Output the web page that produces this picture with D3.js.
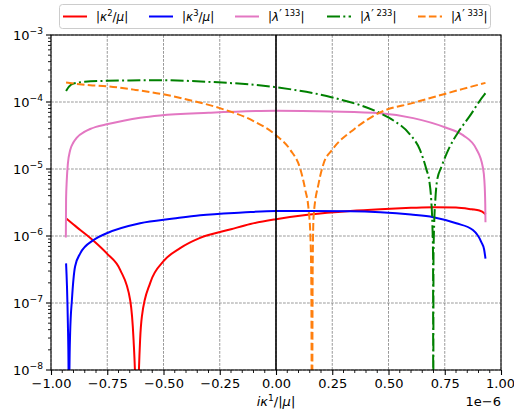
<!DOCTYPE html>
<html>
<head>
<meta charset="utf-8">
<script src="https://cdn.jsdelivr.net/npm/d3@7"></script>
<style>
  html, body { margin: 0; padding: 0; background: #fff; }
  svg { display: block; font-family: "DejaVu Sans", sans-serif; }
</style>
</head>
<body>
<svg id="chart" width="514" height="414"></svg>
<script>
// x values are given in units of 1e-6 (shown as the axis offset)
const xOffset = 1e-6;
const xTicks = [-1, -0.75, -0.5, -0.25, 0, 0.25, 0.5, 0.75, 1];
const yDecades = [-8, -7, -6, -5, -4, -3];

// |kappa^2 / mu|
const kappa2X = [-0.932, -0.9, -0.87, -0.811, -0.752, -0.692, -0.648, -0.633, -0.625, -0.618, -0.611, -0.604, -0.596, -0.559, -0.5, -0.426, -0.34, -0.2, -0.114, 0, 0.15, 0.33, 0.463, 0.6, 0.699, 0.8, 0.87, 0.904, 0.926, 0.932];
const kappa2Y = [1.82e-6, 1.48e-6, 1.23e-6, 8.5e-7, 5.5e-7, 3.1e-7, 1.1e-7, 2.8e-8, 6e-9, 3e-10, 6e-9, 2.8e-8, 6.3e-8, 2.0e-7, 4.2e-7, 6.6e-7, 9.3e-7, 1.26e-6, 1.51e-6, 1.78e-6, 2.09e-6, 2.36e-6, 2.51e-6, 2.63e-6, 2.69e-6, 2.66e-6, 2.5e-6, 2.40e-6, 2.19e-6, 2.09e-6];

// |kappa^3 / mu|
const kappa3X = [-0.933, -0.929, -0.925, -0.922, -0.92, -0.918, -0.915, -0.907, -0.893, -0.87, -0.811, -0.752, -0.604, -0.455, -0.337, -0.15, 0, 0.15, 0.33, 0.463, 0.6, 0.699, 0.801, 0.875, 0.912, 0.925, 0.931];
const kappa3Y = [3.9e-7, 1.78e-7, 5.0e-8, 1e-8, 3e-10, 1e-8, 3.5e-8, 1.12e-7, 3.5e-7, 5.5e-7, 8.7e-7, 1.1e-6, 1.55e-6, 1.82e-6, 2.04e-6, 2.24e-6, 2.36e-6, 2.36e-6, 2.34e-6, 2.26e-6, 2.09e-6, 1.91e-6, 1.55e-6, 1.23e-6, 8.2e-7, 6.3e-7, 4.6e-7];

// |lambda'^133|
const lambda133X = [-0.934, -0.933, -0.93, -0.925, -0.915, -0.9, -0.885, -0.85, -0.826, -0.8, -0.752, -0.678, -0.604, -0.515, -0.3, 0, 0.25, 0.463, 0.61, 0.75, 0.831, 0.89, 0.919, 0.926, 0.93, 0.931];
const lambda133Y = [9.5e-7, 3.5e-6, 6.7e-6, 1.2e-5, 1.9e-5, 2.5e-5, 2.95e-5, 3.6e-5, 3.95e-5, 4.25e-5, 4.65e-5, 5.25e-5, 5.8e-5, 6.3e-5, 6.9e-5, 7.4e-5, 7.2e-5, 6.8e-5, 5.75e-5, 4.2e-5, 3.2e-5, 2.0e-5, 1.07e-5, 6.8e-6, 3.0e-6, 1.6e-6];

// |lambda'^233|
const lambda233X = [-0.933, -0.92, -0.9, -0.85, -0.752, -0.65, -0.515, -0.3, 0, 0.25, 0.463, 0.522, 0.596, 0.64, 0.669, 0.681, 0.69, 0.695, 0.698, 0.699, 0.700, 0.703, 0.708, 0.716, 0.735, 0.772, 0.816, 0.86, 0.926, 0.931];
const lambda233Y = [1.46e-4, 1.70e-4, 1.88e-4, 2.0e-4, 2.07e-4, 2.1e-4, 2.11e-4, 2.0e-4, 1.66e-4, 1.17e-4, 6.8e-5, 5.3e-5, 3.27e-5, 1.93e-5, 9.7e-6, 6.8e-6, 3.4e-6, 1.5e-6, 5e-7, 3e-10, 5e-7, 1.5e-6, 3.4e-6, 6.8e-6, 1.07e-5, 2.14e-5, 3.8e-5, 6.1e-5, 1.29e-4, 1.35e-4];

// |lambda'^333|
const lambda333X = [-0.933, -0.826, -0.752, -0.633, -0.515, -0.4, -0.25, -0.1, 0, 0.064, 0.108, 0.13, 0.145, 0.153, 0.157, 0.16, 0.163, 0.167, 0.19, 0.212, 0.249, 0.35, 0.463, 0.61, 0.75, 0.831, 0.931];
const lambda333Y = [1.95e-4, 1.78e-4, 1.72e-4, 1.53e-4, 1.33e-4, 1.1e-4, 8.1e-5, 5.2e-5, 3.2e-5, 1.92e-5, 1.0e-5, 4.9e-6, 2.45e-6, 9.8e-7, 1.95e-7, 3e-10, 3.2e-7, 1.95e-6, 6.2e-6, 1.22e-5, 1.92e-5, 4.0e-5, 7.0e-5, 9.7e-5, 1.32e-4, 1.57e-4, 1.93e-4];

// legend labels as mathtext-like pieces
const labelKappa2 = [{t: "|"}, {t: "κ", it: true}, {t: "2", sup: true}, {t: "/"}, {t: "μ", it: true}, {t: "|"}];
const labelKappa3 = [{t: "|"}, {t: "κ", it: true}, {t: "3", sup: true}, {t: "/"}, {t: "μ", it: true}, {t: "|"}];
const label133 = [{t: "|"}, {t: "λ", it: true}, {t: "′", prime: true}, {t: " 133", sup: true}, {t: "|"}];
const label233 = [{t: "|"}, {t: "λ", it: true}, {t: "′", prime: true}, {t: " 233", sup: true}, {t: "|"}];
const label333 = [{t: "|"}, {t: "λ", it: true}, {t: "′", prime: true}, {t: " 333", sup: true}, {t: "|"}];

const series = [
  {x: kappa2X, y: kappa2Y, color: "#ff0000", dash: null, label: labelKappa2},
  {x: kappa3X, y: kappa3Y, color: "#0000ff", dash: null, label: labelKappa3},
  {x: lambda133X, y: lambda133Y, color: "#e377c2", dash: null, label: label133},
  {x: lambda233X, y: lambda233Y, color: "#008000", dash: "13,3.3,2,3.3", label: label233},
  {x: lambda333X, y: lambda333Y, color: "#ff7f0e", dash: "7.6,3.3", label: label333}
];

const W = 514, H = 414;
const margin = {left: 51, right: 13, top: 35, bottom: 44};
const plotW = W - margin.left - margin.right;
const plotH = H - margin.top - margin.bottom;
const fs = 13;

const svg = d3.select("#chart");
const x = d3.scaleLinear().domain([-1 * xOffset, 1 * xOffset]).range([margin.left, margin.left + plotW]);
const y = d3.scaleLog().domain([1e-8, 1e-3]).range([margin.top + plotH, margin.top]);

function addMath(textSel, parts, size) {
  let shift = 0;
  parts.forEach(p => {
    const ts = textSel.append("tspan").text(p.t);
    if (p.it) ts.attr("font-style", "italic");
    let target = 0;
    if (p.sup) { ts.attr("font-size", size * 0.7); target = -size * 0.38; }
    if (p.prime) { ts.attr("font-size", size * 0.95); target = -size * 0.22; }
    if (target !== shift) { ts.attr("dy", target - shift); shift = target; }
  });
}

// grid
const grid = svg.append("g");
xTicks.forEach(v => {
  grid.append("line")
    .attr("x1", x(v * xOffset)).attr("x2", x(v * xOffset))
    .attr("y1", margin.top).attr("y2", margin.top + plotH)
    .attr("stroke", "#808080").attr("stroke-width", 0.8).attr("stroke-dasharray", "2.8,1.2");
});
yDecades.forEach(d => {
  grid.append("line")
    .attr("x1", margin.left).attr("x2", margin.left + plotW)
    .attr("y1", y(Math.pow(10, d))).attr("y2", y(Math.pow(10, d)))
    .attr("stroke", "#808080").attr("stroke-width", 0.8).attr("stroke-dasharray", "2.8,1.2");
});

// curves
svg.append("clipPath").attr("id", "plotClip")
  .append("rect").attr("x", margin.left).attr("y", margin.top).attr("width", plotW).attr("height", plotH);

const curves = svg.append("g").attr("clip-path", "url(#plotClip)");
const line = d3.line()
  .x(d => x(d[0] * xOffset))
  .y(d => y(d[1]))
  .curve(d3.curveMonotoneX);

series.forEach(s => {
  const pts = s.x.map((v, i) => [v, s.y[i]]);
  const p = curves.append("path")
    .attr("d", line(pts))
    .attr("fill", "none")
    .attr("stroke", s.color)
    .attr("stroke-width", 2)
    .attr("stroke-linejoin", "round");
  if (s.dash) p.attr("stroke-dasharray", s.dash);
});

// vertical line at zero
svg.append("line")
  .attr("x1", x(0)).attr("x2", x(0))
  .attr("y1", margin.top).attr("y2", margin.top + plotH)
  .attr("stroke", "#000").attr("stroke-width", 1.6);

// axes frame
svg.append("rect")
  .attr("x", margin.left).attr("y", margin.top).attr("width", plotW).attr("height", plotH)
  .attr("fill", "none").attr("stroke", "#000").attr("stroke-width", 1.1);

// x axis
const xMinor = d3.range(-1, 1.0001, 0.05).filter(v => Math.abs(v / 0.25 - Math.round(v / 0.25)) > 1e-6);
const xAxis = d3.axisBottom(x)
  .tickValues(xTicks.map(v => v * xOffset))
  .tickSize(5).tickPadding(4)
  .tickFormat(v => {
    const s = (v / xOffset).toFixed(2);
    return s.replace("-", "−");
  });
const gx = svg.append("g").attr("transform", `translate(0,${margin.top + plotH})`).call(xAxis);
gx.select(".domain").remove();
gx.selectAll("text").attr("font-size", fs).attr("font-family", "DejaVu Sans").attr("fill", "#000");
gx.selectAll("line").attr("stroke-width", 1.1);
// keep the last label inside the page
gx.selectAll(".tick text").filter(v => v >= xOffset * 0.999).attr("text-anchor", "end").attr("x", 13.5);
xMinor.forEach(v => {
  svg.append("line")
    .attr("x1", x(v * xOffset)).attr("x2", x(v * xOffset))
    .attr("y1", margin.top + plotH).attr("y2", margin.top + plotH + 3)
    .attr("stroke", "#000").attr("stroke-width", 0.9);
});

// y axis
const gy = svg.append("g");
yDecades.forEach(d => {
  const yy = y(Math.pow(10, d));
  gy.append("line").attr("x1", margin.left - 5).attr("x2", margin.left)
    .attr("y1", yy).attr("y2", yy).attr("stroke", "#000").attr("stroke-width", 1.1);
  const t = gy.append("text")
    .attr("x", margin.left - 8).attr("y", yy + fs * 0.36)
    .attr("text-anchor", "end").attr("font-size", fs);
  t.append("tspan").text("10");
  t.append("tspan").text("−" + Math.abs(d)).attr("font-size", fs * 0.7).attr("dy", -fs * 0.42);
});
yDecades.slice(0, -1).forEach(d => {
  for (let k = 2; k <= 9; k++) {
    const yy = y(k * Math.pow(10, d));
    gy.append("line").attr("x1", margin.left - 3).attr("x2", margin.left)
      .attr("y1", yy).attr("y2", yy).attr("stroke", "#000").attr("stroke-width", 0.9);
  }
});

// axis label and offset
const xl = svg.append("text")
  .attr("x", x(0)).attr("y", 406).attr("text-anchor", "middle").attr("font-size", fs);
addMath(xl, [{t: "i", it: true}, {t: "κ", it: true}, {t: "1", sup: true}, {t: "/|"}, {t: "μ", it: true}, {t: "|"}], fs);

svg.append("text")
  .attr("x", margin.left + plotW).attr("y", 406).attr("text-anchor", "end")
  .attr("font-size", fs).text("1e−6");

// legend
const legend = svg.append("g");
legend.append("rect")
  .attr("x", 59.5).attr("y", 4.5).attr("width", 431).attr("height", 24).attr("rx", 3)
  .attr("fill", "#fff").attr("fill-opacity", 0.8).attr("stroke", "#cccccc").attr("stroke-width", 1);
const handleX = [63, 149, 235, 327, 418];
const lfs = 12;
series.forEach((s, i) => {
  const hx = handleX[i];
  const l = legend.append("line")
    .attr("x1", hx).attr("x2", hx + 24).attr("y1", 16.5).attr("y2", 16.5)
    .attr("stroke", s.color).attr("stroke-width", 2);
  if (s.dash) l.attr("stroke-dasharray", s.dash);
  const t = legend.append("text").attr("x", hx + 33).attr("y", 21).attr("font-size", lfs);
  addMath(t, s.label, lfs);
});
</script>
</body>
</html>
